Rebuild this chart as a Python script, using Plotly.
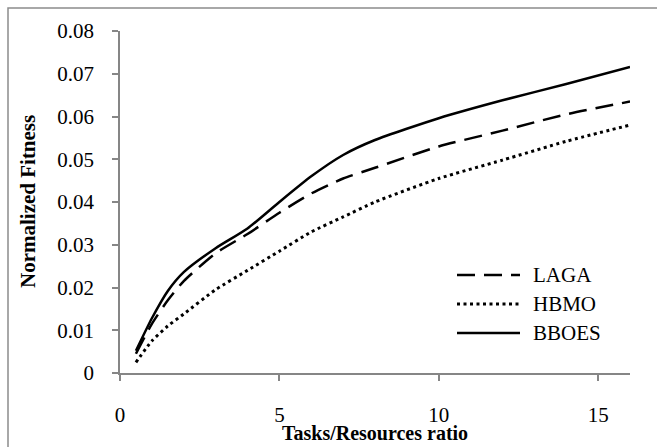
import plotly.graph_objects as go

x_vals = [0.5, 1, 1.5, 2, 3, 4, 5, 6, 7, 8, 10, 12, 14, 16]
laga = [0.0045, 0.0115, 0.017, 0.0215, 0.028, 0.0325, 0.0375, 0.042, 0.0455, 0.048, 0.053, 0.0567, 0.0605, 0.0635]
hbmo = [0.0025, 0.0075, 0.011, 0.0138, 0.0195, 0.024, 0.0285, 0.033, 0.0365, 0.040, 0.0455, 0.0498, 0.0542, 0.058]
bboes = [0.0052, 0.0128, 0.0192, 0.0236, 0.0292, 0.0338, 0.040, 0.046, 0.051, 0.0545, 0.0596, 0.0638, 0.0676, 0.0716]
series_names = ["LAGA", "HBMO", "BBOES"]
x_ticks = [0, 5, 10, 15]
y_ticks = [0, 0.01, 0.02, 0.03, 0.04, 0.05, 0.06, 0.07, 0.08]
x_title = "Tasks/Resources ratio"
y_title = "Normalized Fitness"

FONT = "Liberation Serif"
styles = {
    "LAGA": dict(dash="18px,9px", width=2.5),
    "HBMO": dict(dash="3px,3.5px", width=3),
    "BBOES": dict(dash="solid", width=2.5),
}
data = {"LAGA": laga, "HBMO": hbmo, "BBOES": bboes}

fig = go.Figure()
for name in series_names:
    fig.add_trace(go.Scatter(
        x=x_vals, y=data[name], mode="lines", name=name,
        line=dict(color="black", shape="spline", smoothing=0.6, **styles[name]),
        showlegend=False,
    ))

W, H = 657, 447
ml, mr, mt, mb = 120, 27, 31, 74
pw, ph = W - ml - mr, H - mt - mb

def px2paper_x(px):
    return (px - ml) / pw

def px2paper_y(py):
    return (H - mb - py) / ph

# outer border (chart area frame)
fig.add_shape(type="rect", xref="paper", yref="paper",
              x0=px2paper_x(8), x1=px2paper_x(700),
              y0=px2paper_y(500), y1=px2paper_y(8),
              line=dict(color="#8c8c8c", width=1.5), layer="below")

# custom legend
leg_y = [275, 304, 333]
for name, ly in zip(series_names, leg_y):
    st = styles[name]
    fig.add_shape(type="line", xref="paper", yref="paper",
                  x0=px2paper_x(457), x1=px2paper_x(520),
                  y0=px2paper_y(ly), y1=px2paper_y(ly),
                  line=dict(color="black", width=st["width"], dash=st["dash"]))
    fig.add_annotation(xref="paper", yref="paper",
                       x=px2paper_x(531), y=px2paper_y(ly),
                       text=name, showarrow=False, xanchor="left", yanchor="middle",
                       font=dict(family=FONT, size=21, color="black"))

# axis titles
fig.add_annotation(xref="paper", yref="paper", x=px2paper_x(375), y=px2paper_y(446),
                   text=f"<b>{x_title}</b>", showarrow=False, xanchor="center", yanchor="bottom",
                   font=dict(family=FONT, size=20, color="black"))
fig.add_annotation(xref="paper", yref="paper", x=px2paper_x(28), y=px2paper_y(202),
                   text=f"<b>{y_title}</b>", showarrow=False, textangle=-90,
                   xanchor="center", yanchor="middle",
                   font=dict(family=FONT, size=21, color="black"))

fig.update_layout(
    width=W, height=H,
    margin=dict(l=ml, r=mr, t=mt, b=mb, autoexpand=False),
    paper_bgcolor="white", plot_bgcolor="white",
    font=dict(family=FONT, color="black", size=21),
    showlegend=False,
)
fig.update_xaxes(
    range=[0, 16], tickvals=x_ticks, ticktext=[str(v) for v in x_ticks],
    showgrid=False, zeroline=False, showline=True, linecolor="#868686", linewidth=1.5,
    ticks="outside", ticklen=6, tickcolor="#868686", tickwidth=1.5,
    ticklabelstandoff=16, automargin=False,
    tickfont=dict(family=FONT, size=21, color="black"),
)
fig.update_yaxes(
    range=[0, 0.08], tickvals=y_ticks, ticktext=["0" if v == 0 else f"{v:.2f}" for v in y_ticks],
    showgrid=False, zeroline=False, showline=True, linecolor="#868686", linewidth=1.5,
    ticks="outside", ticklen=6, tickcolor="#868686", tickwidth=1.5,
    ticklabelstandoff=14, automargin=False,
    tickfont=dict(family=FONT, size=21, color="black"),
)

fig.write_html("out.html")
